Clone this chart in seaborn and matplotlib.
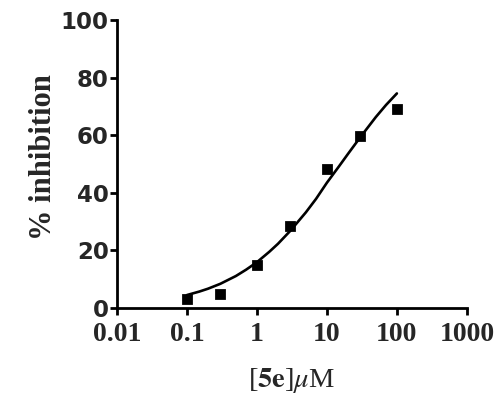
import numpy as np
import pandas as pd
import seaborn as sns
import matplotlib.pyplot as plt

# measured points
conc = [0.1, 0.3, 1, 3, 10, 30, 100]
inhib = [3.2, 4.8, 15.0, 28.3, 48.3, 59.8, 69.0]

# fitted curve
curve_x = [0.1, 0.15, 0.2, 0.3, 0.5, 0.7, 1, 1.5, 2, 3, 5, 7, 10, 15, 20, 30, 50, 70, 100]
curve_y = [4.5, 5.7, 6.7, 8.4, 11.1, 13.3, 15.9, 19.5, 22.3, 26.8, 33.2, 37.9, 43.5, 49.3, 53.5, 59.3, 66.3, 70.5, 74.5]

xticks = [0.01, 0.1, 1, 10, 100, 1000]
xticklabels = ['0.01', '0.1', '1', '10', '100', '1000']
yticks = [0, 20, 40, 60, 80, 100]

sns.set_style('ticks')
plt.rcParams['mathtext.fontset'] = 'stix'

df_pts = pd.DataFrame({'conc': conc, 'inhib': inhib})
df_fit = pd.DataFrame({'x': curve_x, 'y': curve_y})

fig = plt.figure(figsize=(5.02, 4.0), dpi=100)
ax = fig.add_axes([0.233, 0.23, 0.697, 0.72])

sns.lineplot(data=df_fit, x='x', y='y', ax=ax, color='black', linewidth=1.9)
sns.scatterplot(data=df_pts, x='conc', y='inhib', ax=ax, marker='s', s=50,
                color='black', edgecolor='black', zorder=3)

ax.set_xscale('log')
ax.set_xlim(0.01, 1000)
ax.set_ylim(0, 100)
ax.set_xticks(xticks)
ax.set_xticklabels(xticklabels, family='Liberation Serif', fontweight='bold', fontsize=20)
ax.minorticks_off()
ax.set_yticks(yticks)
ax.set_yticklabels([str(v) for v in yticks], family='DejaVu Sans', fontweight='bold', fontsize=16.5)

for side in ['top', 'right']:
    ax.spines[side].set_visible(False)
for side in ['left', 'bottom']:
    ax.spines[side].set_linewidth(2.0)
    ax.spines[side].set_color('black')
ax.tick_params(axis='both', width=2.0, length=5, color='black')
ax.tick_params(axis='x', pad=5)
ax.tick_params(axis='y', pad=1)

ax.set_ylabel('% inhibition', family='Liberation Serif', fontweight='bold', fontsize=22)
ax.yaxis.set_label_coords(-0.168, 0.525)
ax.set_xlabel(r'[$\mathbf{5e}$]$\mu$M', family='Liberation Serif', fontsize=20.5, labelpad=14)

fig.savefig('out.png', dpi=100)
